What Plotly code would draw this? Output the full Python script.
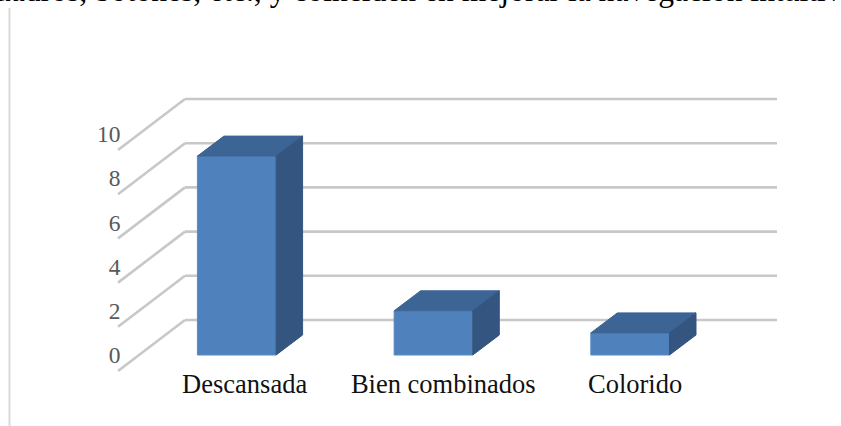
import plotly.graph_objects as go

categories = ["Descansada", "Bien combinados", "Colorido"]
values = [9, 2, 1]
y_ticks = [0, 2, 4, 6, 8, 10]
cut_text = "cuadros, botones, etc., y coinciden en mejorar la navegación intuitiva."

W, H = 841, 426
PX_X = 196.7      # pixels per category
PX_Y = 22.1       # pixels per value unit
X0_PX = 236.75    # pixel of the first category centre
Y0_PX = 355       # pixel of value 0 on the bar front
BAR_W = 0.4
DX = 26.5 / PX_X  # depth of a bar
DY = 20 / PX_Y
GRID_X = [(118 - X0_PX) / PX_X, (185 - X0_PX) / PX_X, (777 - X0_PX) / PX_X]
GRID_Y = [(Y0_PX - 371) / PX_Y, (Y0_PX - 320) / PX_Y]
LABEL_SHIFT = [0.04, 0.05, 0.025]

FRONT, TOP, SIDE = "#4F81BD", "#3C6494", "#335580"
GRID = "#C8C8C8"

fig = go.Figure()

idx = list(range(len(categories)))

fig.add_bar(x=idx, y=values, width=BAR_W, marker=dict(color=FRONT, line=dict(color="#5A8AC2", width=1)),
            showlegend=False, hoverinfo="skip")

h = BAR_W / 2
for i, v in zip(idx, values):
    # top face
    fig.add_scatter(x=[i - h, i + h, i + h + DX, i - h + DX, i - h],
                    y=[v, v, v + DY, v + DY, v],
                    mode="lines", fill="toself", fillcolor=TOP, line=dict(color=TOP, width=1),
                    showlegend=False, hoverinfo="skip")
    # side face
    fig.add_scatter(x=[i + h, i + h + DX, i + h + DX, i + h, i + h],
                    y=[0, DY, v + DY, v, 0],
                    mode="lines", fill="toself", fillcolor=SIDE, line=dict(color=SIDE, width=1),
                    showlegend=False, hoverinfo="skip")

shapes = []
for t in y_ticks:
    for (xa, ya, xb, yb) in [(GRID_X[0], t + GRID_Y[0], GRID_X[1], t + GRID_Y[1]),
                             (GRID_X[1], t + GRID_Y[1], GRID_X[2], t + GRID_Y[1])]:
        shapes.append(dict(type="line", xref="x", yref="y", x0=xa, y0=ya, x1=xb, y1=yb,
                           layer="below", line=dict(color=GRID, width=2.6)))
shapes.append(dict(type="line", xref="paper", yref="paper", x0=9.5 / W, x1=9.5 / W,
                   y0=0, y1=1 - 8 / H, layer="below", line=dict(color="#DADADA", width=2)))

fig.update_layout(
    width=W, height=H, margin=dict(l=0, r=0, t=0, b=0, pad=0),
    paper_bgcolor="white", plot_bgcolor="white",
    font=dict(family="Liberation Serif"),
    showlegend=False,
    shapes=shapes,
    xaxis=dict(range=[(0 - X0_PX) / PX_X, (W - X0_PX) / PX_X], domain=[0, 1],
               tickmode="array", tickvals=[i + s for i, s in zip(idx, LABEL_SHIFT)], ticktext=categories,
               tickfont=dict(size=26.5, color="#111111"), showgrid=False, zeroline=False, showline=False,
               ticks="", anchor="free", position=(H - 365) / H),
    yaxis=dict(range=[(Y0_PX - H) / PX_Y, Y0_PX / PX_Y], domain=[0, 1],
               tickmode="array", tickvals=y_ticks, ticktext=[str(t) for t in y_ticks],
               tickfont=dict(size=23.5, color="#595959"), showgrid=False, zeroline=False, showline=False,
               ticks="", anchor="free", position=120.5 / W),
    annotations=[dict(text=cut_text, xref="paper", yref="paper", x=-21 / W, y=1 - 10 / H,
                      xanchor="left", yanchor="bottom", showarrow=False,
                      font=dict(family="Liberation Serif", size=31.6, color="black"))],
)

fig.write_html("out.html", post_script="document.body.style.margin='0';", config=dict(displayModeBar=False))
